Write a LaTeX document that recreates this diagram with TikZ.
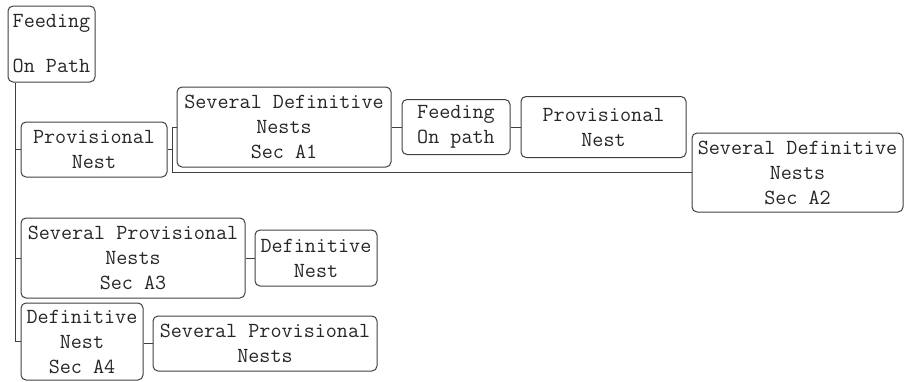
\documentclass[tikz,border=0pt]{standalone}
\usepackage{tikz}
\usetikzlibrary{calc}
\tikzset{
   nest/.style={draw=black!75, line width=1pt, rounded corners=5pt,
      align=center, inner sep=2pt, text=black!85,
      font=\ttfamily\fontsize{21.5}{25}\selectfont},
   link/.style={draw=black!75, line width=1pt},
    }
\begin{document}
\begin{tikzpicture}[x=1pt, y=-1pt]
            \useasboundingbox (0,0) rectangle (906,381);
            \node[nest, minimum width=87pt, minimum height=76pt] (root) at (51.5,44) {Feeding\\[20pt]On Path};
            \node[nest, minimum width=146pt, minimum height=55pt] (prov) at (94,149.5) {Provisional\\Nest};
            \node[nest, minimum width=214pt, minimum height=80pt] (secAone) at (284,127) {Several Definitive\\Nests\\Sec A1};
            \node[nest, minimum width=108pt, minimum height=55pt] (feed) at (456,127) {Feeding\\On path};
            \node[nest, minimum width=165pt, minimum height=61pt] (provB) at (603.5,127) {Provisional\\Nest};
            \node[nest, minimum width=211pt, minimum height=79pt] (secAtwo) at (797.5,172.5) {Several Definitive\\Nests\\Sec A2};
            \node[nest, minimum width=224pt, minimum height=80pt] (secAthree) at (133,258) {Several Provisional\\Nests\\Sec A3};
            \node[nest, minimum width=122pt, minimum height=56pt] (defn) at (316,258) {Definitive\\Nest};
            \node[nest, minimum width=122pt, minimum height=77pt] (secAfour) at (82,341.5) {Definitive\\Nest\\Sec A4};
            \node[nest, minimum width=224pt, minimum height=55pt] (sevProv) at (265,343.5) {Several Provisional\\Nests};
            % trunk from the root
            \draw[link] ([xshift=7.5pt]root.south west) |- (prov.west);
            \draw[link] ([xshift=7.5pt]root.south west) |- (secAthree.west);
            \draw[link] ([xshift=7.5pt]root.south west) |- (secAfour.west);
            % fork after the first provisional nest
            \draw[link] (prov.east) -- ++(5,0) |- (secAone.west);
            \draw[link] (prov.east) ++(5,0) |- (secAtwo.west);
            \draw[link] (secAone.east) -- (feed.west);
            \draw[link] (feed.east) -- (provB.west);
            \draw[link] (secAthree.east) -- (defn.west);
            \draw[link] (sevProv.west -| secAfour.east) -- (sevProv.west);
        \end{tikzpicture}
\end{document}
